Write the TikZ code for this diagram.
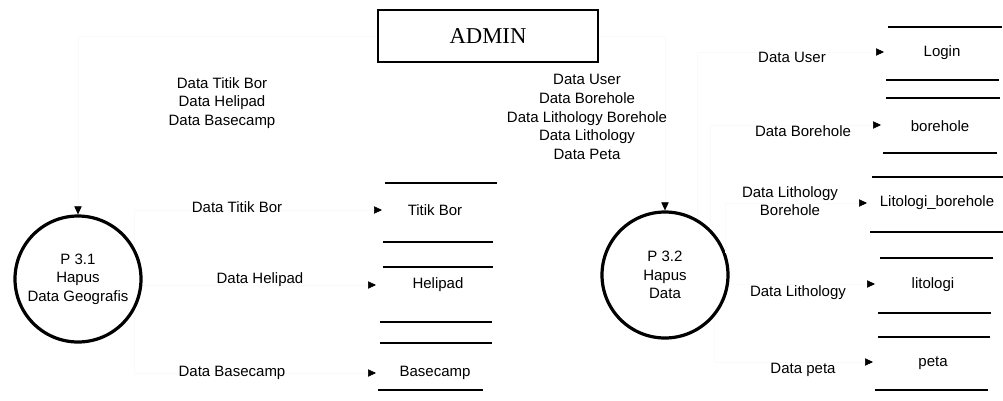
\documentclass[tikz,border=0pt]{standalone}
\usepackage{fontspec}
\setmainfont{Liberation Sans}
\newfontfamily\adminfont{Liberation Serif}
\usetikzlibrary{arrows.meta}
\tikzset{
  lbl/.style={font=\fontsize{11.25}{14}\selectfont, align=center, inner sep=0pt},
  proc/.style={draw, line width=2.4pt, circle, minimum size=94.5pt, inner sep=0pt,
    font=\fontsize{11.25}{14}\selectfont, align=center},
  entity/.style={draw, line width=1.7pt, minimum width=165pt, minimum height=39pt,
    font=\adminfont\fontsize{17}{20}\selectfont},
  storeline/.style={line width=2pt},
  flow/.style={draw=black!2, line width=0.4pt,
    -{Triangle[length=6pt,width=5.5pt,color=black,fill=black]}},
}
\begin{document}
\begin{tikzpicture}[x=0.75pt,y=-0.75pt]
\useasboundingbox (0,0) rectangle (1003,400);

% external entity
\node[entity] (admin) at (488,36) {ADMIN};

% processes
\node[proc] (p31) at (78,279) {P 3.1\\Hapus\\Data Geografis};
\node[proc] (p32) at (665,275) {P 3.2\\Hapus\\Data};

% data stores (left)
\draw[storeline] (385,183) -- (497,183);
\draw[storeline] (383,242) -- (493,242);
\node[lbl] (titik) at (435,210) {Titik Bor};
\draw[storeline] (383,267) -- (493,267);
\draw[storeline] (380,322) -- (492,322);
\node[lbl] (heli) at (438,285) {Helipad};
\draw[storeline] (380,343) -- (492,343);
\draw[storeline] (378,390) -- (483,390);
\node[lbl] (base) at (435,373) {Basecamp};

% data stores (right)
\draw[storeline] (888,27) -- (1002,27);
\draw[storeline] (886,80) -- (999,80);
\node[lbl] (login) at (942,53) {Login};
\draw[storeline] (886,98) -- (1000,98);
\draw[storeline] (883,153) -- (997,153);
\node[lbl] (borehole) at (940,126) {borehole};
\draw[storeline] (872,177) -- (1003,177);
\draw[storeline] (870,232) -- (1003,232);
\node[lbl] (litbore) at (937,203) {Litologi\_borehole};
\draw[storeline] (880,258) -- (993,258);
\draw[storeline] (878,313) -- (991,313);
\node[lbl] (litologi) at (933,285) {litologi};
\draw[storeline] (878,337) -- (990,337);
\draw[storeline] (875,390) -- (988,390);
\node[lbl] (peta) at (933,363) {peta};

% arrow ends at the stores
\coordinate (tTitik) at (382,210);
\coordinate (tHeli) at (376,285);
\coordinate (tBase) at (376,373);
\coordinate (tLogin) at (884,52);
\coordinate (tBore) at (881,125);
\coordinate (tLB) at (867,203);
\coordinate (tLit) at (875,284);
\coordinate (tPeta) at (873,362);

% flows
\draw[flow] (admin.west) -| (p31.north);
\draw[flow] (admin.east) -| (p32.north);
\draw[flow] (p31.30) |- (tTitik);
\draw[flow] (tHeli -| p31.east) -- (tHeli);
\draw[flow] (p31.-30) |- (tBase);
\draw[flow] (p32.60) |- (tLogin);
\draw[flow] (p32.45) |- (tBore);
\draw[flow] (p32.20) |- (tLB);
\draw[flow] (tLit -| p32.east) -- (tLit);
\draw[flow] (p32.-40) |- (tPeta);

% flow labels
\node[lbl] (lGeo) at (222,103) {Data Titik Bor\\Data Helipad\\Data Basecamp};
\node[lbl] (lData) at (587,117) {Data User\\Data Borehole\\Data Lithology Borehole\\Data Lithology\\Data Peta};
\node[lbl] (lTitik) at (237,207) {Data Titik Bor};
\node[lbl] (lHeli) at (260,280) {Data Helipad};
\node[lbl] (lBase) at (232,373) {Data Basecamp};
\node[lbl] (lUser) at (792,57) {Data User};
\node[lbl] (lBore) at (803,131) {Data Borehole};
\node[lbl] (lLB) at (790,201) {Data Lithology\\Borehole};
\node[lbl] (lLit) at (798,293) {Data Lithology};
\node[lbl] (lPeta) at (803,370) {Data peta};
\end{tikzpicture}
\end{document}
